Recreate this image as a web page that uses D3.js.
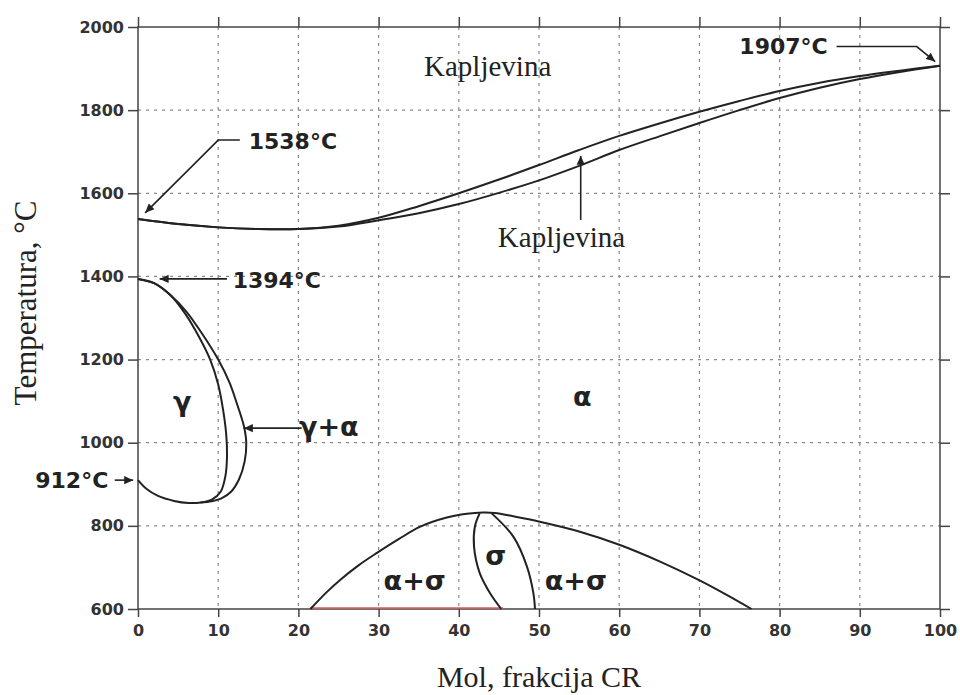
<!DOCTYPE html>
<meta charset="utf-8">
<html lang="hr">
<head>
<meta charset="utf-8">
<title>Fe-Cr</title>
<script src="https://cdn.jsdelivr.net/npm/d3@7/dist/d3.min.js"></script>
<style type="text/css">
body { margin: 0; background: #fff; }
.grid line { stroke: #8a8a8a; stroke-width: 1.2px; stroke-dasharray: 3,5; }
.axis path { display: none; }
.axis line { stroke: #444; stroke-width: 1.5px; }
.axis text { font-family: "DejaVu Sans", sans-serif; font-weight: bold; font-size: 16px; fill: #333; }
.frame { fill: none; stroke: #444; stroke-width: 1.5px; }
.phase { fill: none; stroke: #222; stroke-width: 2px; }
.arrow { fill: none; stroke: #222; stroke-width: 1.6px; }
.lbl { font-family: "DejaVu Sans", sans-serif; font-weight: bold; fill: #222; }
.serif { font-family: "Liberation Serif", "Times New Roman", serif; fill: #222; }
</style>
</head>
<body>
<script type="text/javascript">
"use strict";

var width = 960, height = 695;

// axis ticks
var xTicks = [0, 10, 20, 30, 40, 50, 60, 70, 80, 90, 100];
var yTicks = [600, 800, 1000, 1200, 1400, 1600, 1800, 2000];

// phase boundaries, [mol % Cr, temperature °C]
var liquidus = [[0,1538],[5,1526],[10,1518],[15,1514],[20,1514],[25,1522],[30,1541],[35,1569],[40,1600],
  [45,1633],[50,1668],[55,1704],[60,1738],[65,1768],[70,1796],[75,1822],[80,1846],[85,1866],[90,1882],[95,1895],[100,1907]];
var solidus = [[0,1538],[5,1526],[10,1518],[15,1514],[20,1514],[25,1520],[30,1535],[35,1552],[40,1574],
  [45,1601],[50,1631],[55,1666],[60,1704],[65,1737],[70,1769],[75,1800],[80,1829],[85,1854],[90,1875],[95,1892],[100,1907]];
var gammaInner = [[0,1394],[2,1384],[4,1356],[5.9,1310],[7.6,1255],[9,1200],[10,1140],[10.6,1080],[11,1020],
  [11.1,970],[10.9,920],[10.3,882],[9.2,863],[7.8,856],[6.3,855],[4.5,860],[2.5,872],[1,890],[0,910]];
var gammaOuter = [[0,1394],[2,1384],[4,1356],[6,1316],[8,1262],[10,1200],[11.4,1145],[12.4,1090],[13.2,1040],
  [13.5,1000],[13.3,955],[12.6,912],[11.6,882],[10.4,866],[9.2,859],[7.8,856]];
var sigmaDome = [[21.5,600],[23.5,640],[25.2,670],[27.5,705],[29.8,735],[32.5,768],[35.2,798],[38.5,820],[41,829],
  [43,832],[44.5,831],[46.8,823],[50.1,810],[55.1,786],[60.1,754],[65.1,714],[69.9,670],[73.4,634],[76.5,600]];
var sigmaLeft = [[42.6,830],[42,798],[41.9,750],[42.6,687],[43.9,638],[45.3,600]];
var sigmaRight = [[44.1,830],[46.8,774],[48.5,702],[49.3,638],[49.5,600]];
var redBase = [[21.5,600],[45.5,600]];

// labels: text, x, T
var phaseLabels = [["γ",5.5,1095],["α",55.4,1107],["σ",44.6,725],["α+σ",34.5,665],["α+σ",54.6,665],["γ+α",23.8,1035]];

// arrows: polyline in data units, last point is the tip
var arrows = [
  [[12.7,1728],[10,1728],[0.9,1553]],
  [[87.1,1953],[97.1,1953],[99.4,1917]],
  [[11.1,1394],[2.7,1394]],
  [[20.4,1035],[13.2,1035]],
  [[-2.9,910],[-0.6,910]],
  [[55.2,1536],[55.2,1690]]
];
// temperature callouts: text, x, T, anchor
var tempLabels = [["1538°C",13.8,1726,"start"],["1907°C",86.0,1954,"end"],["1394°C",11.8,1392,"start"],["912°C",-3.7,910,"end"]];

var x = d3.scaleLinear().domain([0, 100]).range([138, 940]);
var y = d3.scaleLinear().domain([600, 2000]).range([609, 27]);

var svg = d3.select("body").append("svg")
    .attr("width", width)
    .attr("height", height);

svg.append("defs").append("marker")
    .attr("id", "head")
    .attr("viewBox", "0 -5 10 10")
    .attr("refX", 10).attr("refY", 0)
    .attr("markerUnits", "userSpaceOnUse")
    .attr("markerWidth", 11).attr("markerHeight", 9)
    .attr("orient", "auto")
  .append("path")
    .attr("d", "M0,-4.5L10,0L0,4.5Z")
    .attr("fill", "#222");

// grid
svg.append("g").attr("class", "grid")
  .selectAll("line").data(xTicks.slice(1, -1)).enter().append("line")
    .attr("x1", function(d) { return x(d); }).attr("x2", function(d) { return x(d); })
    .attr("y1", y(2000)).attr("y2", y(600));
svg.append("g").attr("class", "grid")
  .selectAll("line").data(yTicks.slice(1, -1)).enter().append("line")
    .attr("y1", function(d) { return y(d); }).attr("y2", function(d) { return y(d); })
    .attr("x1", x(0)).attr("x2", x(100));

// axes
svg.append("g").attr("class", "axis")
    .attr("transform", "translate(0," + y(600) + ")")
    .call(d3.axisBottom(x).tickValues(xTicks).tickSize(8).tickPadding(8).tickFormat(d3.format("d")));
svg.append("g").attr("class", "axis")
    .attr("transform", "translate(0," + y(2000) + ")")
    .call(d3.axisTop(x).tickValues(xTicks).tickSize(10).tickFormat(""));
svg.append("g").attr("class", "axis")
    .attr("transform", "translate(" + x(0) + ",0)")
    .call(d3.axisLeft(y).tickValues(yTicks).tickSize(10).tickPadding(4).tickFormat(d3.format("d")));
svg.append("g").attr("class", "axis")
    .attr("transform", "translate(" + x(100) + ",0)")
    .call(d3.axisRight(y).tickValues(yTicks).tickSize(10).tickFormat(""));

svg.append("rect").attr("class", "frame")
    .attr("x", x(0)).attr("y", y(2000))
    .attr("width", x(100) - x(0)).attr("height", y(600) - y(2000));

var line = d3.line()
    .x(function(d) { return x(d[0]); })
    .y(function(d) { return y(d[1]); })
    .curve(d3.curveCatmullRom.alpha(0.5));

svg.append("path").datum(redBase)
    .attr("d", line).attr("fill", "none")
    .attr("stroke", "#e05a5a").attr("stroke-width", 1.4)
    .attr("transform", "translate(0,-1)");

[liquidus, solidus, gammaInner, gammaOuter, sigmaDome, sigmaLeft, sigmaRight].forEach(function(c) {
  svg.append("path").datum(c).attr("class", "phase").attr("d", line);
});

var straight = d3.line()
    .x(function(d) { return x(d[0]); })
    .y(function(d) { return y(d[1]); });

svg.selectAll(".arrow").data(arrows).enter().append("path")
    .attr("class", "arrow")
    .attr("d", straight)
    .attr("marker-end", "url(#head)");

svg.selectAll(".tlabel").data(tempLabels).enter().append("text")
    .attr("class", "lbl tlabel")
    .attr("x", function(d) { return x(d[1]); })
    .attr("y", function(d) { return y(d[2]); })
    .attr("dy", "0.36em")
    .attr("text-anchor", function(d) { return d[3]; })
    .style("font-size", "22px")
    .text(function(d) { return d[0]; });

svg.selectAll(".plabel").data(phaseLabels).enter().append("text")
    .attr("class", "lbl plabel")
    .attr("x", function(d) { return x(d[1]); })
    .attr("y", function(d) { return y(d[2]); })
    .attr("dy", "0.3em")
    .attr("text-anchor", "middle")
    .style("font-size", "27px")
    .text(function(d) { return d[0]; });

svg.append("text").attr("class", "serif")
    .attr("x", x(43.6)).attr("y", y(1882))
    .attr("text-anchor", "middle")
    .style("font-size", "29px")
    .text("Kapljevina");
svg.append("text").attr("class", "serif")
    .attr("x", x(52.8)).attr("y", y(1471))
    .attr("text-anchor", "middle")
    .style("font-size", "29px")
    .text("Kapljevina");

// axis titles
svg.append("text").attr("class", "serif")
    .attr("x", (x(0) + x(100)) / 2).attr("y", 687)
    .attr("text-anchor", "middle")
    .style("font-size", "30px")
    .text("Mol, frakcija CR");
svg.append("text").attr("class", "serif")
    .attr("transform", "translate(36,303) rotate(-90)")
    .attr("text-anchor", "middle")
    .style("font-size", "31px")
    .text("Temperatura, °C");
</script>
</body>
</html>
